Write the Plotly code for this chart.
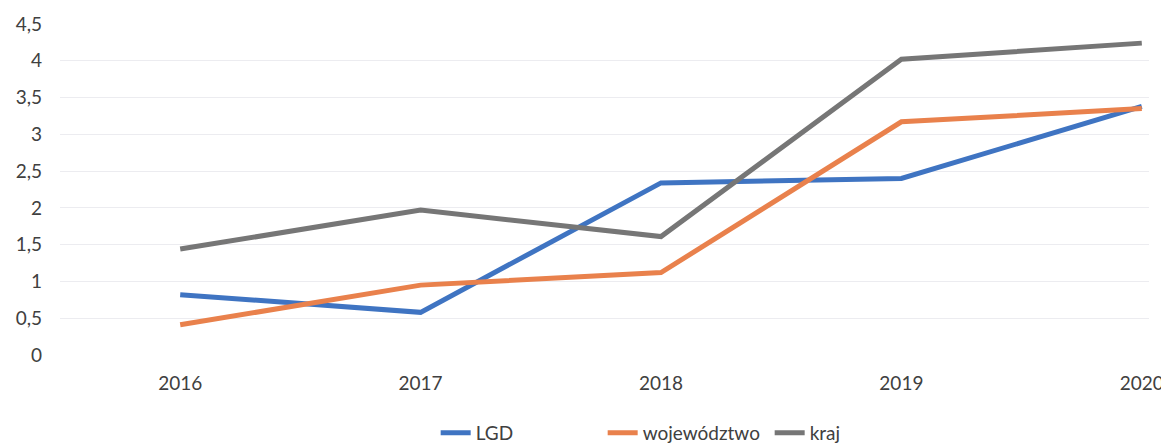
import plotly.graph_objects as go

years = ["2016", "2017", "2018", "2019", "2020"]
lgd = [0.82, 0.58, 2.34, 2.40, 3.38]
wojewodztwo = [0.41, 0.95, 1.12, 3.17, 3.35]
kraj = [1.44, 1.97, 1.61, 4.02, 4.24]

y_ticks = [0, 0.5, 1, 1.5, 2, 2.5, 3, 3.5, 4, 4.5]
y_labels = ["0", "0,5", "1", "1,5", "2", "2,5", "3", "3,5", "4", "4,5"]

series = [
    ("LGD", lgd, "#3f74c2"),
    ("województwo", wojewodztwo, "#e9814c"),
    ("kraj", kraj, "#767676"),
]

fig = go.Figure()
for name, vals, color in series:
    fig.add_trace(go.Scatter(
        x=years, y=vals, name=name, mode="lines",
        line=dict(color=color, width=5),
    ))

# page body adds an 8px offset, so the figure is a bit smaller than the window
fig.update_layout(
    width=1161, height=435,
    paper_bgcolor="white", plot_bgcolor="white",
    margin=dict(l=52, r=20, t=16, b=88, autoexpand=False),
    font=dict(family="Lato, Open Sans, sans-serif", size=19, color="#404040"),
    showlegend=True,
    legend=dict(orientation="h", x=0.575, xanchor="center", y=-0.235, yanchor="middle",
                font=dict(size=19), entrywidth=122, entrywidthmode="pixels"),
)
fig.update_xaxes(type="category", range=[-0.5, 4.03], showgrid=False,
                 showline=False, ticks="", zeroline=False, ticklabelstandoff=15)
fig.update_yaxes(range=[0, 4.5], tickvals=y_ticks, ticktext=y_labels,
                 showgrid=True, gridcolor="#ececf0", gridwidth=1,
                 zeroline=False, showline=False, ticklabelstandoff=17)

fig.write_html("out.html")
